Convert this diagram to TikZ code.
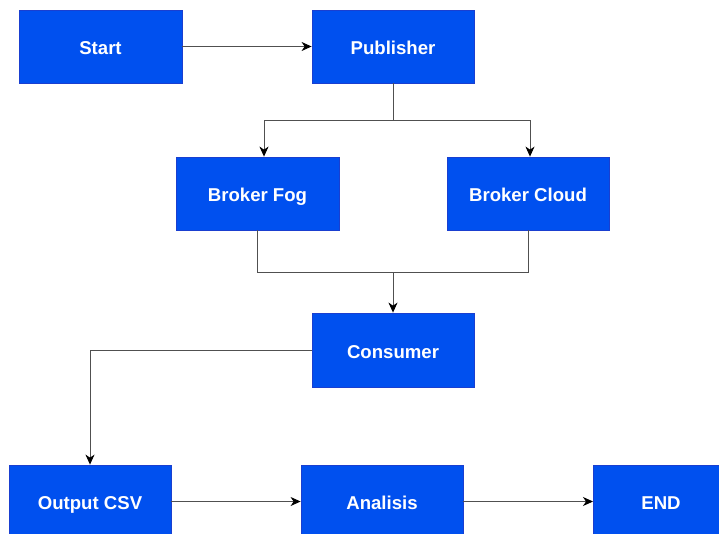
\documentclass[tikz,border=0pt]{standalone}
\usepackage{fontspec}
\setmainfont{Liberation Sans}
\usetikzlibrary{arrows.meta}
\definecolor{boxfill}{HTML}{0050EF}
\definecolor{boxline}{HTML}{1A3FD0}
\definecolor{wire}{HTML}{505050}
\tikzset{
  labeltext/.style={text=white, font=\fontsize{18.6}{20}\selectfont\bfseries,
    text height=16.6pt, text depth=0pt},
  stepbox/.style={rectangle, fill=boxfill, draw=boxline, line width=0.8pt,
    minimum width=162pt, minimum height=73pt, inner sep=0pt, labeltext},
  wireline/.style={draw=wire, line width=1pt},
  flow/.style={wireline, -{Stealth[length=10pt,width=9pt,inset=3pt,color=black]}}
}
\begin{document}
\begin{tikzpicture}[x=1pt,y=-1pt]
  \useasboundingbox (0,0) rectangle (719,533);
  \fill[white] (0,0) rectangle (719,533);

  % process boxes
  \node[stepbox, minimum width=163pt] (start) at (100.5,46.5) {Start};
  \node[stepbox] (pub) at (393,46.5) {Publisher};
  \node[stepbox, minimum width=163pt] (fog) at (257.5,193.5) {Broker Fog};
  \node[stepbox] (cloud) at (528,193.5) {Broker Cloud};
  \node[stepbox, minimum height=74pt] (cons) at (393,350) {Consumer};
  \node[stepbox] (csv) at (90,501.5) {Output CSV};
  \node[stepbox] (ana) at (382,501.5) {Analisis};
  \node[stepbox, minimum width=162pt, anchor=west] (endbox) at (593,501.5) {};
  \node[labeltext] (endtxt) at (661,501.5) {END};

  % junction points
  \coordinate (split) at (393,120);
  \coordinate (merge) at (393,272);

  % connectors
  \draw[flow] (start.east) -- (pub.west);
  \draw[wireline] (pub.south) -- (split);
  \draw[flow] (split) -| ([xshift=6.5pt]fog.north);
  \draw[flow] (split) -| ([xshift=2pt]cloud.north);
  \draw[wireline] (fog.south) |- (merge);
  \draw[wireline] (cloud.south) |- (merge);
  \draw[flow] (merge) -- (cons.north);
  \draw[flow] (cons.west) -| (csv.north);
  \draw[flow] (csv.east) -- (ana.west);
  \draw[flow] (ana.east) -- (endbox.west);
\end{tikzpicture}
\end{document}
